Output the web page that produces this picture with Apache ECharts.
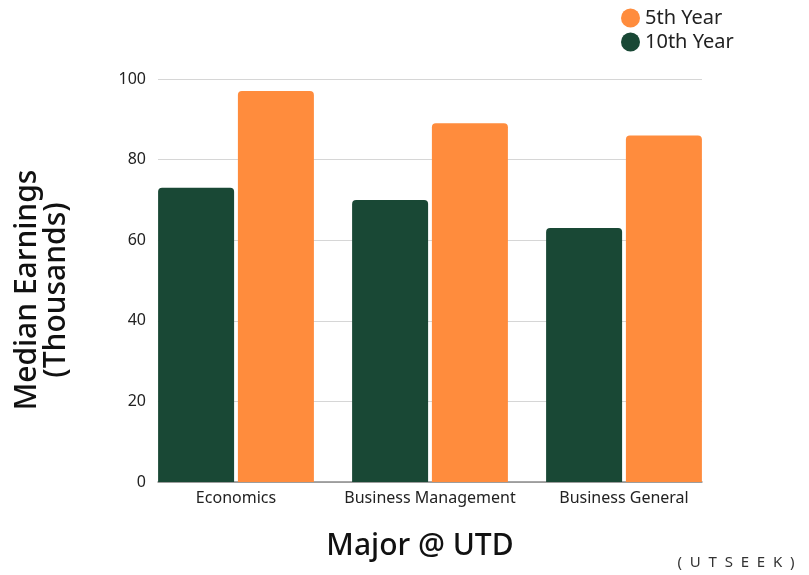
<!DOCTYPE html>
<html>
<head>
<meta charset="utf-8">
<script src="https://cdn.jsdelivr.net/npm/echarts@6/dist/echarts.min.js"></script>
<style>html,body{margin:0;padding:0;background:#fff}#c{width:809px;height:575px}</style>
</head>
<body>
<div id="c"></div>
<script>
const categories = ['Economics', 'Business Management', 'Business General'];
const tenthYear = [73, 70, 63];
const fifthYear = [97, 89, 86];
const yTicks = [0, 20, 40, 60, 80, 100];

const FONT = 'Noto Sans';
const GREEN = '#194835';
const ORANGE = '#FF8C3D';

const chart = echarts.init(document.getElementById('c'));
chart.setOption({
  backgroundColor: '#fff',
  textStyle: { fontFamily: FONT },
  animation: false,
  legend: {
    orient: 'vertical', left: 616, top: 3,
    data: ['5th Year', '10th Year'],
    icon: 'circle', itemWidth: 19, itemHeight: 19, itemGap: 4,
    textStyle: { fontSize: 20, color: '#222', fontFamily: FONT }
  },
  grid: [
    { left: 139, right: 88, top: 79, bottom: 93 },
    { left: 158, right: 107, top: 79, bottom: 93 }
  ],
  xAxis: [
    {
      gridIndex: 0, type: 'category', data: categories,
      axisLine: { show: false }, axisTick: { show: false },
      axisLabel: { interval: 0, fontSize: 16, color: '#222', margin: 8, fontFamily: FONT }
    },
    {
      gridIndex: 1, type: 'value', min: 0, max: 1,
      axisLine: { show: true, onZero: false, lineStyle: { color: '#8a8a8a', width: 1.5 } },
      axisTick: { show: false }, axisLabel: { show: false }, splitLine: { show: false }
    }
  ],
  yAxis: [
    { gridIndex: 0, type: 'value', min: 0, max: 100, show: false, splitLine: { show: false } },
    {
      gridIndex: 1, type: 'value', min: yTicks[0], max: yTicks[yTicks.length - 1], interval: 20,
      axisLine: { show: false }, axisTick: { show: false },
      axisLabel: { fontSize: 16, color: '#222', margin: 12, fontFamily: FONT },
      splitLine: { lineStyle: { color: '#d6d6d6', width: 1 } }
    }
  ],
  series: [
    {
      name: '10th Year', type: 'bar', xAxisIndex: 0, yAxisIndex: 0,
      data: tenthYear, barWidth: 76, barGap: '5%',
      itemStyle: { color: GREEN, borderRadius: [4, 4, 0, 0] }
    },
    {
      name: '5th Year', type: 'bar', xAxisIndex: 0, yAxisIndex: 0,
      data: fifthYear, barWidth: 76, barGap: '5%',
      itemStyle: { color: ORANGE, borderRadius: [4, 4, 0, 0] }
    }
  ],
  graphic: [
    {
      type: 'text', x: 42, y: 290, rotation: Math.PI / 2,
      style: {
        text: 'Median Earnings\n(Thousands)', fontSize: 30, lineHeight: 29, fontWeight: 500,
        fontFamily: FONT, fill: '#111', align: 'center', verticalAlign: 'middle'
      }
    },
    {
      type: 'text', x: 420, y: 546,
      style: {
        text: 'Major @ UTD', fontSize: 30, fontWeight: 500, fontFamily: FONT, fill: '#111',
        align: 'center', verticalAlign: 'middle'
      }
    },
    {
      type: 'text', x: 736, y: 563,
      style: {
        text: '(  U  T  S  E  E  K  )', fontSize: 15, fontFamily: FONT, fill: '#333',
        align: 'center', verticalAlign: 'middle'
      }
    }
  ]
});
</script>
</body>
</html>
